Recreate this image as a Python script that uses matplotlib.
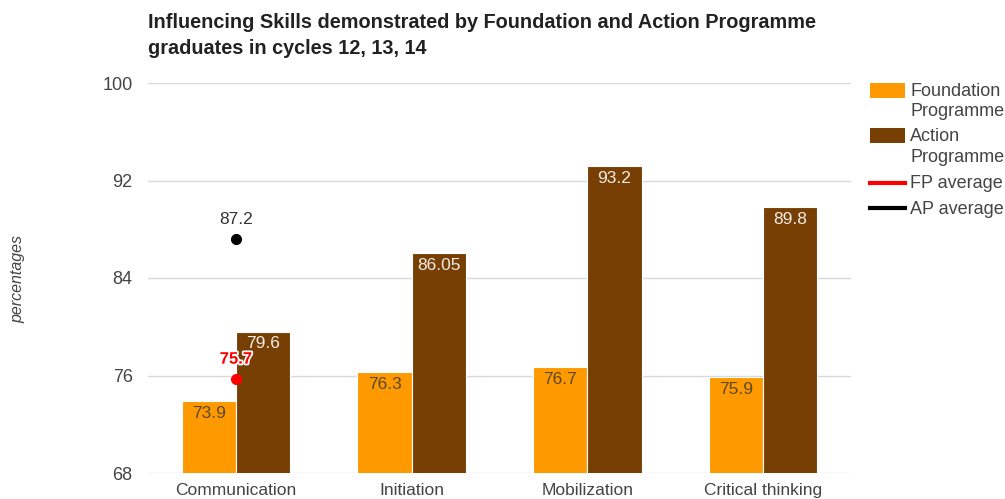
import matplotlib.pyplot as plt
import matplotlib.patheffects as pe
from matplotlib.patches import Rectangle
from matplotlib.lines import Line2D
import numpy as np

plt.rcParams["font.family"] = ["Liberation Sans", "DejaVu Sans"]

# Datos del gráfico
skills = ["Communication", "Initiation", "Mobilization", "Critical thinking"]
foundation = [73.9, 76.3, 76.7, 75.9]
action = [79.6, 86.05, 93.2, 89.8]
fp_average = 75.7
ap_average = 87.2
y_ticks = [68, 76, 84, 92, 100]

orange = "#FF9900"
brown = "#783F04"
W, H = 1005, 499

fig = plt.figure(figsize=(W / 100, H / 100), dpi=100)
ax = fig.add_axes([148 / W, 1 - 473 / H, 703 / W, 390 / H])

x = np.arange(len(skills))
w = 0.308

bars_fp = ax.bar(x - w / 2, foundation, w, color=orange, edgecolor="white", linewidth=0.8, zorder=2)
bars_ap = ax.bar(x + w / 2, action, w, color=brown, edgecolor="white", linewidth=0.8, zorder=2)

# Etiquetas dentro de las barras
for b, v in zip(bars_fp, foundation):
    ax.annotate(f"{v:g}", (b.get_x() + b.get_width() / 2, v), xytext=(0, -3.5),
                textcoords="offset points", ha="center", va="top", fontsize=12.5, color="#5a4a2a", zorder=4)
for b, v in zip(bars_ap, action):
    ax.annotate(f"{v:g}", (b.get_x() + b.get_width() / 2, v), xytext=(0, -3.5),
                textcoords="offset points", ha="center", va="top", fontsize=12.5, color="#f2ece6",
                zorder=4)

# Promedios como puntos
ax.plot(0, fp_average, "o", color="red", markersize=7, zorder=5)
ax.plot(0, ap_average, "o", color="black", markersize=7, zorder=5)
ax.annotate(f"{fp_average:g}", (0, fp_average), xytext=(0, 9), textcoords="offset points",
            ha="center", va="bottom", fontsize=12, color="red", fontweight="bold", zorder=6,
            path_effects=[pe.withStroke(linewidth=2.5, foreground="white")])
ax.annotate(f"{ap_average:g}", (0, ap_average), xytext=(0, 9), textcoords="offset points",
            ha="center", va="bottom", fontsize=12.5, color="#333333", zorder=6)

ax.set_xlim(-0.5, len(skills) - 0.5)
ax.set_ylim(68, 100)
ax.set_yticks(y_ticks)
ax.set_xticks(x)
ax.set_xticklabels(skills)
ax.grid(axis="y", color="#d9d9d9", linewidth=1, zorder=0)
ax.set_axisbelow(True)
for s in ax.spines.values():
    s.set_visible(False)
ax.tick_params(length=0, labelsize=12.5, labelcolor="#444444")
ax.tick_params(axis="y", labelsize=13, pad=11)
ax.tick_params(axis="x", pad=7)

fig.text(18 / W, 1 - 279 / H, "percentages", rotation=90, style="italic", fontsize=11.5,
         color="#444444", ha="center", va="center")

fig.text(148 / W, 1 - 23 / H, "Influencing Skills demonstrated by Foundation and Action Programme",
         fontsize=14.3, fontweight="bold", color="#222222", ha="left", va="center")
fig.text(148 / W, 1 - 48 / H, "graduates in cycles 12, 13, 14",
         fontsize=14.3, fontweight="bold", color="#222222", ha="left", va="center")

# Leyenda a la derecha
fig.patches.append(Rectangle((870 / W, 1 - 98 / H), 35 / W, 15 / H, transform=fig.transFigure,
                             facecolor=orange, edgecolor="none"))
fig.patches.append(Rectangle((870 / W, 1 - 143 / H), 35 / W, 15 / H, transform=fig.transFigure,
                             facecolor=brown, edgecolor="none"))
fig.lines.append(Line2D([870 / W, 905 / W], [1 - 183 / H] * 2, transform=fig.transFigure,
                        color="red", linewidth=3))
fig.lines.append(Line2D([870 / W, 905 / W], [1 - 208 / H] * 2, transform=fig.transFigure,
                        color="black", linewidth=3))
legend_rows = [("Foundation", 91), ("Programme", 111), ("Action", 137), ("Programme", 158),
               ("FP average", 184), ("AP average", 209)]
for txt, yy in legend_rows:
    fig.text(910 / W, 1 - yy / H, txt, fontsize=13, color="#444444", ha="left", va="center")

fig.savefig("out.png", dpi=100)
